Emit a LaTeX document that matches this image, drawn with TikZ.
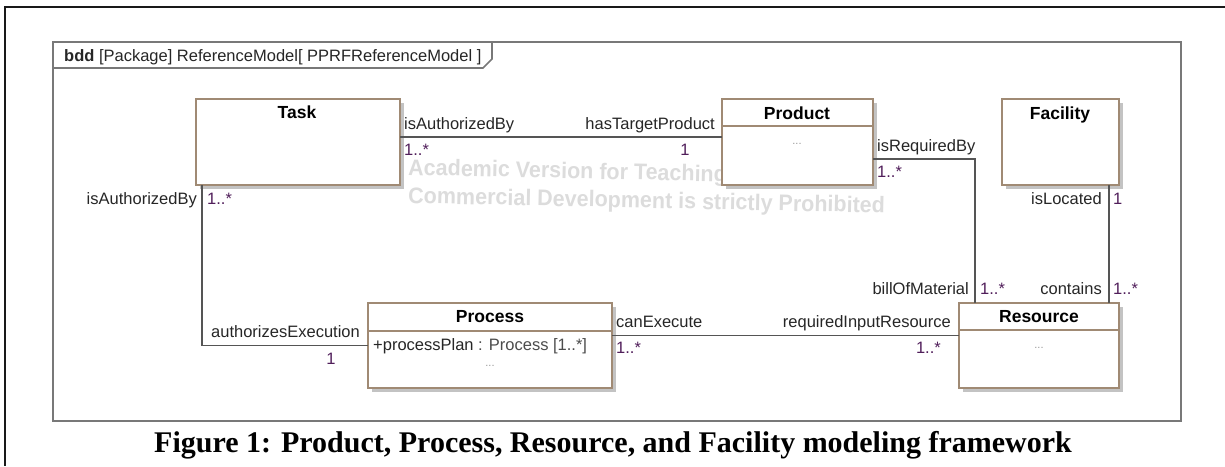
\documentclass[tikz,border=0pt]{standalone}
\usepackage{fontspec}
\setmainfont{Liberation Sans}
\newfontfamily\captionserif{Liberation Serif}
\usetikzlibrary{shadows}
\definecolor{clsborder}{RGB}{160,138,116}
\definecolor{connline}{RGB}{85,85,85}
\definecolor{framegray}{RGB}{120,120,120}
\definecolor{multcol}{RGB}{80,30,90}
\definecolor{watermark}{RGB}{220,220,220}
\definecolor{shadowgray}{RGB}{195,195,195}
\begin{document}
\begin{tikzpicture}[x=1pt,y=-1pt,
  cls/.style={draw=clsborder, line width=1.6pt, fill=white, anchor=north west,
    inner sep=0pt, outer sep=0pt,
    drop shadow={shadow xshift=4pt, shadow yshift=-4pt, fill=shadowgray, opacity=1}},
  sep/.style={draw=clsborder, line width=1.6pt},
  conn/.style={draw=connline, line width=1.5pt},
  role/.style={font=\fontsize{16.5}{18}\selectfont, text=black!85, inner sep=0pt},
  mult/.style={role, text=multcol},
  ttl/.style={font=\bfseries\fontsize{17.5}{20}\selectfont, inner sep=0pt, anchor=base},
  dots/.style={font=\fontsize{11}{12}\selectfont, text=black!40, inner sep=0pt, anchor=base},
  wm/.style={font=\bfseries\fontsize{21.5}{24}\selectfont, text=watermark, inner sep=0pt,
    anchor=base west, rotate=-1.2, yscale=1.05},
]
\useasboundingbox (0,0) rectangle (1225,466);

% page border (top and left edges)
\draw[black!90, line width=2pt] (1225,7) -- (5,7) -- (5,466);

% diagram frame with its name tab
\draw[framegray, line width=1.8pt] (53,42) rectangle (1181,421);
\draw[framegray, line width=1.6pt] (53,68) -- (483,68) -- (492,59) -- (492,42);
\node[role, anchor=base west] (hdr) at (64,61)
  {\textbf{bdd} [Package] ReferenceModel[ PPRFReferenceModel ]};

% evaluation watermark, partly hidden behind the Product block
\node[wm] (wm1) at (408,175) {Academic Version for Teaching};
\node[wm] (wm2) at (408,203) {Commercial Development is strictly Prohibited};

% blocks
\node[cls, minimum width=204pt, minimum height=86pt] (task) at (196,99) {};
\node[cls, minimum width=151pt, minimum height=86pt] (product) at (722,99) {};
\node[cls, minimum width=117pt, minimum height=86pt] (facility) at (1002,99) {};
\node[cls, minimum width=244pt, minimum height=85pt] (process) at (368,303) {};
\node[cls, minimum width=160pt, minimum height=85pt] (resource) at (959,303) {};

% compartment separators
\draw[sep] ([yshift=-27pt]product.north west) -- ([yshift=-27pt]product.north east);
\draw[sep] ([yshift=-28pt]process.north west) -- ([yshift=-28pt]process.north east);
\draw[sep] ([yshift=-27pt]resource.north west) -- ([yshift=-27pt]resource.north east);

% block names and compartments
\node[ttl] (taskname) at (297,118) {Task};
\node[ttl] (productname) at (797,119) {Product};
\node[ttl] (facilityname) at (1060,119) {Facility};
\node[ttl] (processname) at (490,322) {Process};
\node[ttl] (resourcename) at (1039,322) {Resource};
\node[dots] (productdots) at (797,144) {...};
\node[dots] (processdots) at (490,366) {...};
\node[dots] (resourcedots) at (1039,348) {...};
\node[role, anchor=base west] (processplan) at (373,350)
  {+processPlan \textcolor{black!70}{: Process [1..*]}};

% associations
\draw[conn] ([yshift=5pt]task.east) -- ([yshift=5pt]product.west);
\draw[conn] ([xshift=6pt]task.south west) |- (process.west);
\draw[conn] ([yshift=10pt]process.east) -- ([yshift=10pt]resource.west);
\draw[conn] ([yshift=-17pt]product.east) -| ([xshift=16pt]resource.north west);
\draw[conn] ([xshift=-10pt]facility.south east) -- ([xshift=-10pt]resource.north east);

% role names and multiplicities
\node[role, anchor=base west] (r1a) at (404,129) {isAuthorizedBy};
\node[mult, anchor=base west] (m1a) at (404,155) {1..*};
\node[role, anchor=base east] (r1b) at (715,129) {hasTargetProduct};
\node[mult, anchor=base] (m1b) at (685,155) {1};

\node[role, anchor=base east] (r2a) at (197,204) {isAuthorizedBy};
\node[mult, anchor=base west] (m2a) at (207,204) {1..*};
\node[role, anchor=base east] (r2b) at (360,337) {authorizesExecution};
\node[mult, anchor=base] (m2b) at (331,364) {1};

\node[role, anchor=base west] (r3a) at (616,327) {canExecute};
\node[mult, anchor=base west] (m3a) at (616,353) {1..*};
\node[role, anchor=base east] (r3b) at (951,327) {requiredInputResource};
\node[mult, anchor=base east] (m3b) at (941,353) {1..*};

\node[role, anchor=base west] (r4a) at (877,151) {isRequiredBy};
\node[mult, anchor=base west] (m4a) at (877,177) {1..*};
\node[role, anchor=base east] (r4b) at (969,294) {billOfMaterial};
\node[mult, anchor=base west] (m4b) at (980,294) {1..*};

\node[role, anchor=base east] (r5a) at (1102,204) {isLocated};
\node[mult, anchor=base west] (m5a) at (1113,204) {1};
\node[role, anchor=base east] (r5b) at (1102,294) {contains};
\node[mult, anchor=base west] (m5b) at (1113,294) {1..*};

% figure caption
\node[font=\captionserif\bfseries\fontsize{30}{34}\selectfont, inner sep=0pt] (caption)
  at (613,445) {Figure 1: Product, Process, Resource, and Facility modeling framework};
\end{tikzpicture}
\end{document}
